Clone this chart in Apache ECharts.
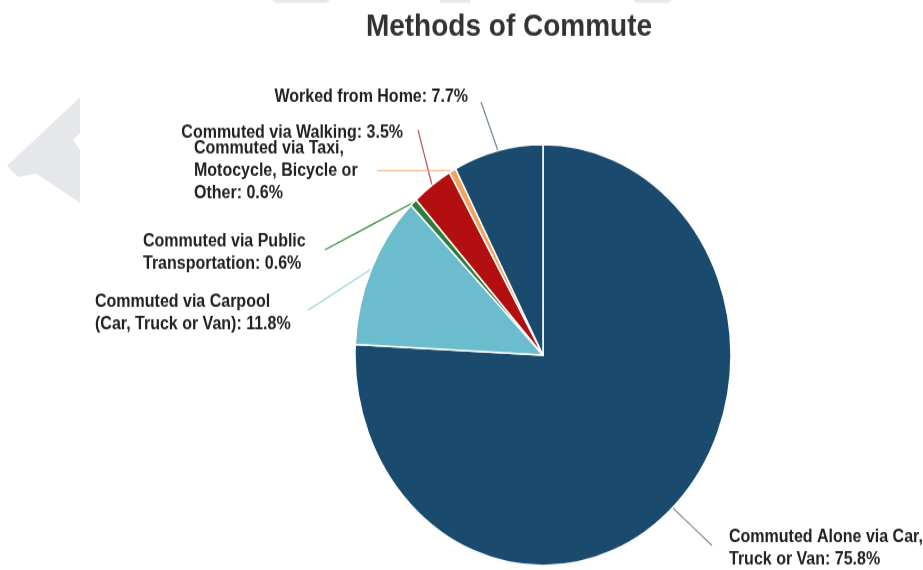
<!DOCTYPE html>
<html>
<head>
<meta charset="utf-8">
<script src="https://cdn.jsdelivr.net/npm/echarts@6/dist/echarts.min.js"></script>
<style>
html, body { margin: 0; padding: 0; background: #ffffff; overflow: hidden; }
#wrap { width: 923px; height: 570px; overflow: hidden; position: relative; }
#chart { width: 923px; height: 509px; transform: scaleY(1.12); transform-origin: 0 0; }
</style>
</head>
<body>
<div id="wrap"><div id="chart"></div></div>
<script>
// ---- data ----
const categories = [
  "Commuted Alone via Car,\nTruck or Van",
  "Commuted via Carpool\n(Car, Truck or Van)",
  "Commuted via Public\nTransportation",
  "Commuted via Walking",
  "Commuted via Taxi,\nMotocycle, Bicycle or\nOther",
  "Worked from Home"
];
const values = [75.8, 11.8, 0.6, 3.5, 0.6, 7.7];
const sliceColors = ["#1a4a6d", "#6bbccc", "#2f7d3a", "#b30f10", "#f2a35c", "#1a4a6d"];
const lineColors = ["#7f8d9a", "#9fd2da", "#3d8a44", "#c0505c", "#f2a868", "#6f8798"];
const titleText = "Methods of Commute";

// ---- label layout (positions only) ----
const labelPos = [
  { x: 729, y: 490, align: "left",  end: [712, 487] },
  { x: 95,  y: 280, align: "left",  end: [308, 277] },
  { x: 143, y: 226, align: "left",  end: [325, 223] },
  { x: 403, y: 119, align: "right", end: [418, 116] },
  { x: 194, y: 153, align: "left",  end: [377, null] },
  { x: 468, y: 87,  align: "right", end: [481, 91] }
];

const chart = echarts.init(document.getElementById("chart"), null, { renderer: "canvas" });

const seriesData = categories.map((c, i) => ({
  name: c,
  value: values[i],
  itemStyle: { color: sliceColors[i] },
  labelLine: { lineStyle: { color: lineColors[i], width: 1.2 } }
}));

const option = {
  backgroundColor: "#ffffff",
  animation: false,
  title: {
    text: titleText,
    left: 509,
    textAlign: "center",
    top: 10,
    padding: 0,
    textStyle: { fontFamily: "Liberation Sans, Arial, sans-serif", fontSize: 28, fontWeight: "bold", color: "#333333" }
  },
  graphic: [
    { type: "polygon", silent: true, z: -10,
      shape: { points: [[80, 87], [7, 148], [18, 158], [36, 155], [80, 181], [80, 134], [73, 125], [80, 119]] },
      style: { fill: "#e6e7eb" } },
    { type: "polygon", silent: true, z: -10, shape: { points: [[272, 0], [330, 0], [326, 2.5], [276, 2.5]] }, style: { fill: "#e6e7eb" } },
    { type: "polygon", silent: true, z: -10, shape: { points: [[440, 0], [470, 0], [470, 2.5], [440, 2.5]] }, style: { fill: "#e6e7eb" } },
    { type: "polygon", silent: true, z: -10, shape: { points: [[633, 0], [672, 0], [668, 2.5], [637, 2.5]] }, style: { fill: "#e6e7eb" } }
  ],
  series: [{
    type: "pie",
    center: [543, 317],
    radius: [0, 188],
    startAngle: 90,
    clockwise: true,
    avoidLabelOverlap: false,
    data: seriesData,
    itemStyle: { borderColor: "#ffffff", borderWidth: 1.5 },
    label: {
      show: true,
      position: "outside",
      formatter: "{b}: {c}%",
      fontFamily: "Liberation Sans, Arial, sans-serif",
      fontSize: 16,
      fontWeight: "bold",
      color: "#222222",
      lineHeight: 20
    },
    labelLine: { show: true, length: 20, length2: 10, smooth: false },
    labelLayout: function (params) {
      const p = labelPos[params.dataIndex];
      const start = params.labelLinePoints ? params.labelLinePoints[0] : null;
      const out = { x: p.x, y: p.y, align: p.align, verticalAlign: "middle", hideOverlap: false, moveOverlap: null };
      if (start) {
        const ex = p.end[0];
        const ey = p.end[1] === null ? start[1] : p.end[1];
        out.labelLinePoints = [[start[0], start[1]], [(start[0] + ex) / 2, (start[1] + ey) / 2], [ex, ey]];
      }
      return out;
    }
  }]
};
chart.setOption(option);
</script>
</body>
</html>
